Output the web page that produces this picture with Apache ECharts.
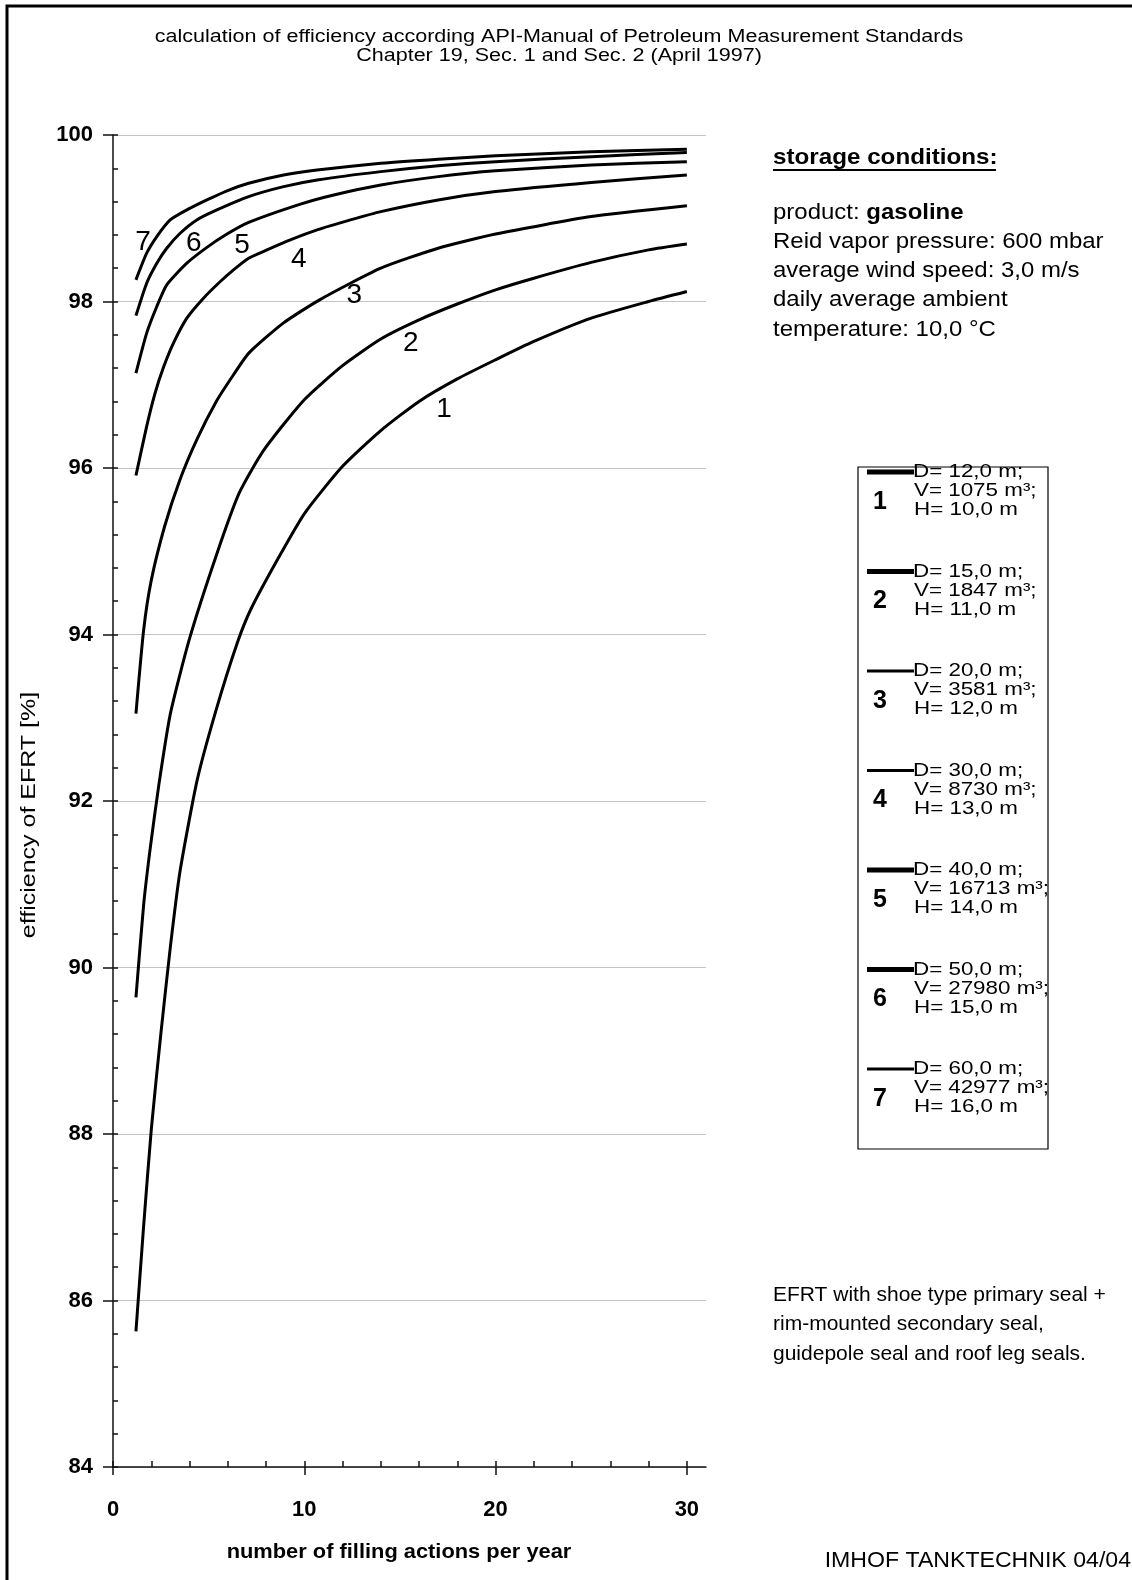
<!DOCTYPE html>
<html>
<head>
<meta charset="utf-8">
<title>EFRT efficiency</title>
<script src="https://cdn.jsdelivr.net/npm/echarts@6/dist/echarts.min.js"></script>
<style>
  html, body { margin: 0; padding: 0; background: #fff; }
  #chart { width: 1132px; height: 1580px; }
</style>
</head>
<body>
<div id="chart"></div>
<script>
// curves: [filling actions per year, efficiency %]
const tank1 = [[1.2, 85.63], [1.6, 86.89], [2.0, 88.05], [2.5, 89.2], [3.0, 90.25], [3.5, 91.15], [4.4, 92.25], [5.4, 93.1], [6.5, 93.9], [7.2, 94.3], [8.6, 94.9], [10, 95.45], [12, 96.02], [14, 96.45], [16, 96.8], [18, 97.07], [20, 97.3], [22, 97.52], [25, 97.8], [28, 98.0], [30, 98.12]];
const tank2 = [[1.2, 89.64], [1.6, 90.75], [1.95, 91.44], [2.4, 92.2], [3.0, 93.05], [4.0, 93.95], [5.4, 94.95], [6.6, 95.7], [7.9, 96.22], [10, 96.82], [12, 97.23], [14, 97.55], [16, 97.78], [18, 97.97], [20, 98.14], [22, 98.28], [25, 98.47], [28, 98.62], [30, 98.69]];
const tank3 = [[1.2, 93.05], [1.6, 94.05], [2.0, 94.65], [2.7, 95.3], [3.5, 95.86], [4.4, 96.35], [5.4, 96.8], [6.3, 97.12], [7.1, 97.38], [8.9, 97.74], [10.8, 98.02], [14, 98.4], [17, 98.64], [20, 98.81], [25, 99.02], [30, 99.15]];
const tank4 = [[1.2, 95.91], [1.76, 96.5], [2.2, 96.9], [2.64, 97.21], [3.16, 97.5], [3.86, 97.8], [4.73, 98.04], [5.61, 98.24], [6.3, 98.38], [7.09, 98.52], [8.05, 98.62], [9.27, 98.74], [10.67, 98.86], [12.41, 98.98], [14, 99.08], [17, 99.22], [20, 99.32], [25, 99.43], [30, 99.52]];
const tank5 = [[1.2, 97.14], [1.76, 97.62], [2.29, 97.94], [2.81, 98.2], [3.86, 98.46], [4.91, 98.65], [5.96, 98.81], [7.09, 98.95], [9.8, 99.17], [11.54, 99.28], [14, 99.4], [17, 99.5], [20, 99.57], [25, 99.64], [30, 99.68]];
const tank6 = [[1.2, 97.83], [1.76, 98.22], [2.29, 98.46], [2.81, 98.64], [3.51, 98.82], [4.38, 98.98], [5.43, 99.1], [7.09, 99.26], [8.92, 99.38], [10.67, 99.46], [14, 99.56], [17, 99.63], [20, 99.68], [25, 99.74], [30, 99.79]];
const tank7 = [[1.2, 98.26], [1.76, 98.58], [2.29, 98.78], [2.99, 98.98], [3.86, 99.1], [4.91, 99.22], [5.96, 99.33], [7.09, 99.42], [8.92, 99.52], [10.67, 99.58], [14, 99.66], [17, 99.71], [20, 99.75], [25, 99.8], [30, 99.83]];

// curve numbers written next to the lines
const curveLabels = [[1.57, 98.71, '7'], [4.22, 98.7, '6'], [6.75, 98.68, '5'], [9.71, 98.51, '4'], [12.61, 98.07, '3'], [15.57, 97.5, '2'], [17.31, 96.7, '1']];

// axes
const xTickLabels = [0, 10, 20, 30];
const xMinorTicks = [0, 2, 4, 6, 8, 10, 12, 14, 16, 18, 20, 22, 24, 26, 28, 30];

// legend contents
const tankNo = ['1', '2', '3', '4', '5', '6', '7'];
const tankD = ['12,0', '15,0', '20,0', '30,0', '40,0', '50,0', '60,0'];
const tankV = ['1075', '1847', '3581', '8730', '16713', '27980', '42977'];
const tankH = ['10,0', '11,0', '12,0', '13,0', '14,0', '15,0', '16,0'];
const legendStroke = [5, 5, 3, 3, 5, 5, 3];

const titleLines = [
  'calculation of efficiency according API-Manual of Petroleum Measurement Standards',
  'Chapter 19, Sec. 1 and Sec. 2 (April 1997)'
];
const conditionLines = [
  'product: {b|gasoline}',
  'Reid vapor pressure: 600 mbar',
  'average wind speed: 3,0 m/s',
  'daily average ambient',
  'temperature: 10,0 °C'
];
const sealLines = [
  'EFRT with shoe type primary seal +',
  'rim-mounted secondary seal,',
  'guidepole seal and roof leg seals.'
];

const FONT = '"Liberation Sans", Arial, sans-serif';
const chart = echarts.init(document.getElementById('chart'));

const tanks = [tank1, tank2, tank3, tank4, tank5, tank6, tank7];
const series = tanks.map((d, i) => ({
  name: tankNo[i],
  type: 'line',
  data: d,
  showSymbol: false,
  smooth: 0.2,
  lineStyle: { color: '#000', width: 3 },
  silent: true
}));
series.push({
  type: 'scatter',
  data: curveLabels,
  symbolSize: 0,
  itemStyle: { color: 'transparent' },
  silent: true,
  label: {
    show: true,
    position: 'inside',
    formatter: p => p.value[2],
    fontFamily: FONT,
    fontSize: 28,
    color: '#000',
    opacity: 1
  }
});

function txt(x, y, text, size, opt) {
  opt = opt || {};
  return {
    type: 'text', x: x, y: y, rotation: opt.rotation || 0, scaleX: opt.sx || 1, silent: true,
    style: {
      text: text,
      fontFamily: FONT,
      fontSize: size,
      fontWeight: opt.bold ? 'bold' : 'normal',
      fill: '#000',
      align: opt.align || 'left',
      verticalAlign: 'middle',
      rich: { b: { fontFamily: FONT, fontSize: size, fontWeight: 'bold', fill: '#000' } }
    }
  };
}

const graphic = [];
// frame
graphic.push({ type: 'rect', shape: { x: 7, y: 6, width: 1140, height: 1600 }, style: { fill: 'none', stroke: '#000', lineWidth: 3 }, silent: true });
titleLines.forEach((t, i) => graphic.push(txt(559, 37.5 + 18.5 * i, t, 17.5, { align: 'center', sx: 1.23 })));
graphic.push(txt(29, 815, 'efficiency of EFRT [%]', 21, { align: 'center', rotation: Math.PI / 2, sx: 1.19 }));
graphic.push(txt(399, 1552, 'number of filling actions per year', 21, { align: 'center', bold: true, sx: 1.04 }));

graphic.push(txt(773, 158, 'storage conditions:', 22, { bold: true, sx: 1.1 }));
graphic.push({ type: 'line', shape: { x1: 773, y1: 170, x2: 996, y2: 170 }, style: { stroke: '#000', lineWidth: 2 }, silent: true });
conditionLines.forEach((t, i) => graphic.push(txt(773, 212.7 + 29.2 * i, t, 22, { sx: 1.09 })));
sealLines.forEach((t, i) => graphic.push(txt(773, 1295 + 29.7 * i, t, 21)));
graphic.push(txt(1131, 1561, 'IMHOF TANKTECHNIK 04/04', 22, { align: 'right', sx: 1.05 }));

// legend box
graphic.push({ type: 'rect', shape: { x: 858, y: 467, width: 190, height: 682 }, style: { fill: '#fff', stroke: '#000', lineWidth: 1.2 }, silent: true });
tankNo.forEach((n, i) => {
  const y0 = 472 + 99.5 * i;
  graphic.push({ type: 'line', shape: { x1: 867, y1: y0, x2: 914, y2: y0 }, style: { stroke: '#000', lineWidth: legendStroke[i] }, silent: true });
  graphic.push(txt(880, y0 + 30, n, 25, { align: 'center', bold: true }));
  graphic.push(txt(913, y0, 'D= ' + tankD[i] + ' m;', 18.5, { sx: 1.21 }));
  graphic.push(txt(914, y0 + 19, 'V= ' + tankV[i] + ' m³;', 18.5, { sx: 1.21 }));
  graphic.push(txt(914, y0 + 38, 'H= ' + tankH[i] + ' m', 18.5, { sx: 1.21 }));
});

chart.setOption({
  animation: false,
  backgroundColor: '#fff',
  grid: { left: 113, right: 426, top: 135, bottom: 113, containLabel: false },
  xAxis: [{
    type: 'value', min: 0, max: 31, interval: 10,
    axisLine: { lineStyle: { color: '#111', width: 1.5 } },
    axisTick: { show: true, length: 8, customValues: xTickLabels, lineStyle: { color: '#111', width: 1.5 } },
    axisLabel: { customValues: xTickLabels, margin: 32, fontFamily: FONT, fontSize: 22, fontWeight: 'bold', color: '#000' },
    splitLine: { show: false }
  }, {
    type: 'value', min: 0, max: 31, position: 'bottom',
    axisLine: { show: false },
    axisTick: { show: true, inside: true, length: 6, customValues: xMinorTicks, lineStyle: { color: '#111', width: 1.5 } },
    axisLabel: { show: false },
    splitLine: { show: false }
  }],
  yAxis: [{
    type: 'value', min: 84, max: 100, interval: 2,
    axisLine: { show: true, lineStyle: { color: '#111', width: 1.5 } },
    axisTick: { show: true, length: 10, lineStyle: { color: '#111', width: 1.5 } },
    axisLabel: { margin: 20, fontFamily: FONT, fontSize: 22, fontWeight: 'bold', color: '#000' },
    splitLine: { show: true, lineStyle: { color: '#c4c4c4', width: 1.2 } }
  }, {
    type: 'value', min: 84, max: 100, interval: 0.4, position: 'left',
    axisLine: { show: false },
    axisTick: { show: true, inside: true, length: 5, lineStyle: { color: '#111', width: 1.5 } },
    axisLabel: { show: false },
    splitLine: { show: false }
  }],
  graphic: graphic,
  series: series
});
</script>
</body>
</html>
